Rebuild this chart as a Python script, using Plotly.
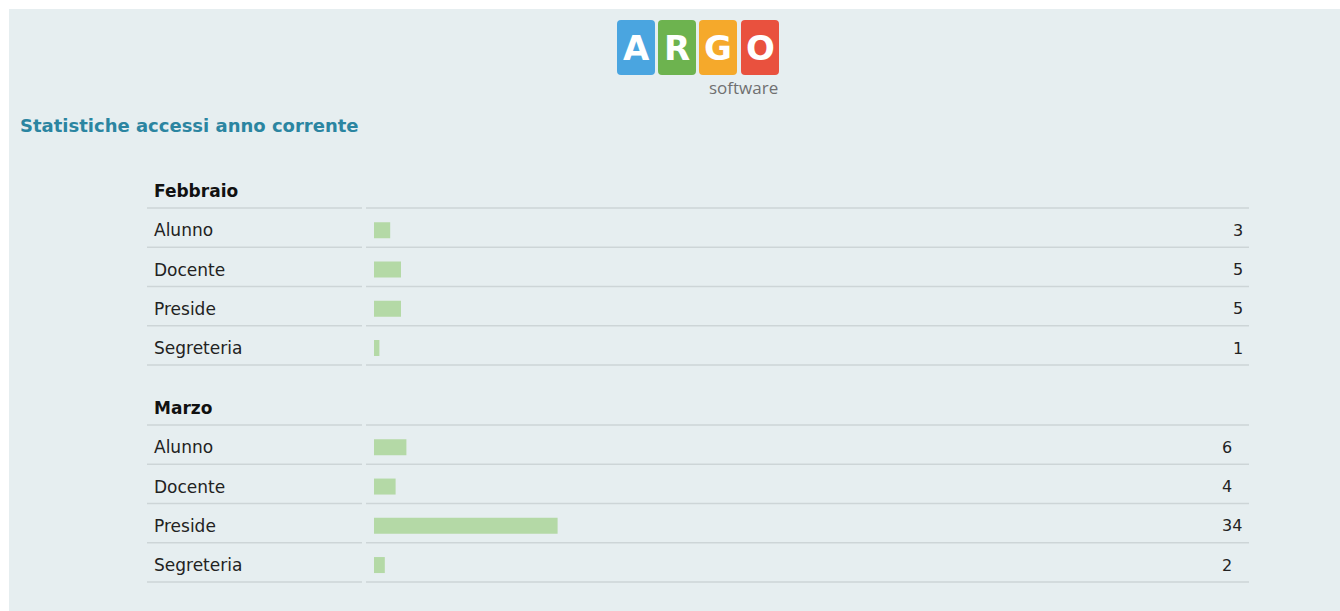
import plotly.graph_objects as go

# ---------------- data ----------------
months = ["Febbraio", "Marzo"]
roles = ["Alunno", "Docente", "Preside", "Segreteria"]
feb_values = [3, 5, 5, 1]
mar_values = [6, 4, 34, 2]
month_values = [feb_values, mar_values]
title_text = "Statistiche accessi anno corrente"
logo_letters = ["A", "R", "G", "O"]
logo_sub = "software"

# ---------------- layout constants (pixels) ----------------
W, H = 1340, 611
ROW_H = 39.25
FIRST_HEADER_Y = 191
MONTH_GAP_ROWS = 5.53
LINE_OFFSET = 17
BAR_X0 = 374
PX_PER_UNIT = 5.4
NUM_LEFT = [1231, 1220]
TABLE_X0, TABLE_X1 = 147, 1249
LABEL_COL_END, BAR_COL_START = 362, 366
BG = "#e6eef0"
BAR_COLOR = "#b4d9a6"
LINE_COLOR = "#cdd5d7"
TEXT_COLOR = "#222222"
FONT = "DejaVu Sans, Verdana, sans-serif"

fig = go.Figure()
shapes = []
annotations = []

# background panel with white top/left border
shapes.append(dict(type="rect", xref="x", yref="y", x0=9, x1=W, y0=9, y1=H,
                   fillcolor=BG, line=dict(width=0), layer="below"))

# logo
def rrect(x0, y0, x1, y1, r):
    return (f"M {x0+r},{y0} L {x1-r},{y0} Q {x1},{y0} {x1},{y0+r} "
            f"L {x1},{y1-r} Q {x1},{y1} {x1-r},{y1} L {x0+r},{y1} "
            f"Q {x0},{y1} {x0},{y1-r} L {x0},{y0+r} Q {x0},{y0} {x0+r},{y0} Z")

logo_colors = ["#4aa5e0", "#6db34f", "#f5a92b", "#e9513e"]
logo_x = [617, 658, 699, 741]
for letter, col, lx in zip(logo_letters, logo_colors, logo_x):
    shapes.append(dict(type="path", xref="x", yref="y", path=rrect(lx, 20, lx + 38, 75, 4),
                       fillcolor=col, line=dict(width=0), layer="below"))
    annotations.append(dict(xref="x", yref="y", x=lx + 19, y=48, text=f"<b>{letter}</b>",
                            showarrow=False, xanchor="center", yanchor="middle",
                            font=dict(family="DejaVu Sans, sans-serif", size=34, color="white")))
annotations.append(dict(xref="x", yref="y", x=780, y=87, text=logo_sub, showarrow=False,
                        xanchor="right", yanchor="middle",
                        font=dict(family="Open Sans, sans-serif", size=17, color="#707070")))

# title
annotations.append(dict(xref="x", yref="y", x=18, y=125, text=f"<b>{title_text}</b>",
                        showarrow=False, xanchor="left", yanchor="middle",
                        font=dict(family=FONT, size=18, color="#2b85a1")))

def hline(y):
    shapes.append(dict(type="line", xref="x", yref="y", x0=TABLE_X0, x1=LABEL_COL_END, y0=y, y1=y,
                       line=dict(color=LINE_COLOR, width=1.5), layer="below"))
    shapes.append(dict(type="line", xref="x", yref="y", x0=BAR_COL_START, x1=TABLE_X1, y0=y, y1=y,
                       line=dict(color=LINE_COLOR, width=1.5), layer="below"))

bar_y, bar_x = [], []
for mi, (month, vals) in enumerate(zip(months, month_values)):
    header_y = FIRST_HEADER_Y + mi * MONTH_GAP_ROWS * ROW_H
    annotations.append(dict(xref="x", yref="y", x=152, y=header_y, text=f"<b>{month}</b>",
                            showarrow=False, xanchor="left", yanchor="middle",
                            font=dict(family=FONT, size=17, color="#111111")))
    hline(header_y + LINE_OFFSET)
    for ri, (role, v) in enumerate(zip(roles, vals)):
        ry = header_y + (ri + 1) * ROW_H
        bar_y.append(ry)
        bar_x.append(v)
        annotations.append(dict(xref="x", yref="y", x=152, y=ry, text=role,
                                showarrow=False, xanchor="left", yanchor="middle",
                                font=dict(family=FONT, size=17, color=TEXT_COLOR)))
        annotations.append(dict(xref="x", yref="y", x=NUM_LEFT[mi], y=ry, text=str(v),
                                showarrow=False, xanchor="left", yanchor="middle",
                                font=dict(family=FONT, size=16, color=TEXT_COLOR)))
        hline(ry + LINE_OFFSET)

fig.add_trace(go.Bar(x=bar_x, y=bar_y, orientation="h", width=16,
                     xaxis="x2", yaxis="y",
                     marker=dict(color=BAR_COLOR, line=dict(width=0)),
                     hoverinfo="x", showlegend=False))

fig.update_layout(
    width=W, height=H,
    margin=dict(l=0, r=0, t=0, b=0),
    paper_bgcolor="white",
    plot_bgcolor="rgba(0,0,0,0)",
    xaxis=dict(domain=[0, 1], range=[0, W], visible=False, fixedrange=True),
    xaxis2=dict(domain=[BAR_X0 / W, 1], range=[0, (W - BAR_X0) / PX_PER_UNIT], anchor="y",
                visible=False, fixedrange=True),
    yaxis=dict(domain=[0, 1], range=[H, 0], visible=False, fixedrange=True),
    shapes=shapes,
    annotations=annotations,
    showlegend=False,
)

fig.write_html("out.html")
